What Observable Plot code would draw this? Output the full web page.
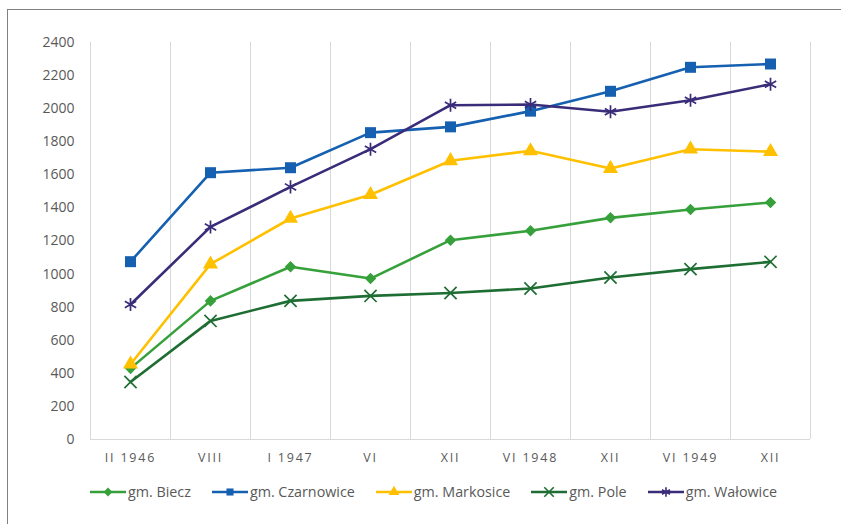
<!DOCTYPE html>
<html><head><meta charset="utf-8">
<script src="https://cdn.jsdelivr.net/npm/d3@7"></script>
<script src="https://cdn.jsdelivr.net/npm/@observablehq/plot@0.6"></script>
<style>
body{margin:0;background:#fff;font-family:"Open Sans",sans-serif;}
#wrap{position:relative;width:841px;height:524px;overflow:hidden;background:#fff}
#frame{position:absolute;left:7px;top:9px;width:900px;height:600px;border-top:1.5px solid #808080;border-left:1.5px solid #808080}
#chart{position:absolute;left:0;top:0}
#chart svg{overflow:visible}
#chart g[aria-label="x-axis tick label"] text{letter-spacing:1.8px}
#legend{position:absolute;left:90px;top:482px;display:flex;gap:21px;align-items:center;font-size:14.3px;color:#595959;white-space:nowrap}
#legend .item{display:flex;align-items:center;gap:2px}
</style></head>
<body>
<div id="wrap"><div id="frame"></div><div id="chart"></div><div id="legend"></div></div>
<script>
const categories = ["II 1946","VIII","I 1947","VI","XII","VI 1948","XII","VI 1949","XII"];
const seriesNames = ["gm. Biecz","gm. Czarnowice","gm. Markosice","gm. Pole","gm. Wałowice"];
const biecz      = [430, 838, 1044, 973, 1205, 1262, 1340, 1390, 1433];
const czarnowice = [1075, 1613, 1643, 1855, 1890, 1985, 2105, 2250, 2270];
const markosice  = [455, 1060, 1336, 1480, 1685, 1745, 1638, 1755, 1740];
const pole       = [348, 717, 838, 868, 886, 913, 979, 1030, 1074];
const walowice   = [816, 1285, 1527, 1755, 2021, 2025, 1981, 2051, 2148];
const yTicks = [0,200,400,600,800,1000,1200,1400,1600,1800,2000,2200,2400];

const seriesValues = [biecz, czarnowice, markosice, pole, walowice];
const colors = ["#36A03A","#1560B0","#FFC000","#1E6E33","#3A2C78"];
const symbols = ["diamond2","square","triangle","times","asterisk"];
const filled = [true, true, true, false, false];
const radii = [5.2, 6.2, 5.6, 5.6, 6.2];

const rows = seriesNames.flatMap((s, si) => seriesValues[si].map((v, i) => ({series: s, i, v})));
const idx = categories.map((_, i) => i);
const bounds = d3.range(-0.5, categories.length, 1);

const marks = [
  Plot.ruleX(bounds, {stroke: "#d9d9d9", strokeWidth: 1, y1: 0, y2: 2400}),
  Plot.ruleY([0], {stroke: "#d9d9d9", strokeWidth: 1}),
  Plot.axisY({ticks: yTicks, tickFormat: d => String(d), tickSize: 0, tickPadding: 16, fontSize: 14, fill: "#595959", label: null, fontFamily: "Open Sans"}),
  Plot.axisX({ticks: idx, tickFormat: i => categories[i], tickSize: 0, tickPadding: 14, fontSize: 12.5, fill: "#595959", label: null, fontFamily: "Open Sans"}),
  Plot.line(rows, {x: "i", y: "v", z: "series", stroke: "series", strokeWidth: 2.6})
];
seriesNames.forEach((s, si) => {
  const data = rows.filter(d => d.series === s);
  marks.push(Plot.dot(data, filled[si]
    ? {x: "i", y: "v", symbol: () => symbols[si], r: radii[si], fill: colors[si], stroke: "none"}
    : {x: "i", y: "v", symbol: () => symbols[si], r: radii[si], stroke: colors[si], strokeWidth: 1.7, fill: "none"}));
});

const chart = Plot.plot({
  width: 841, height: 475,
  marginLeft: 90, marginRight: 31, marginTop: 42, marginBottom: 36,
  x: {domain: [-0.5, categories.length - 0.5], axis: null},
  y: {domain: [0, 2400], axis: null},
  color: {domain: seriesNames, range: colors},
  symbol: {domain: symbols, range: symbols},
  style: {background: "transparent", fontFamily: "Open Sans"},
  marks
});
document.getElementById("chart").appendChild(chart);

// legend
const symMap = {diamond2: d3.symbolDiamond2, square: d3.symbolSquare, triangle: d3.symbolTriangle, times: d3.symbolTimes, asterisk: d3.symbolAsterisk};
const legend = d3.select("#legend");
seriesNames.forEach((s, si) => {
  const item = legend.append("div").attr("class", "item");
  const svg = item.append("svg").attr("width", 36).attr("height", 14);
  svg.append("line").attr("x1", 0).attr("x2", 36).attr("y1", 7).attr("y2", 7).attr("stroke", colors[si]).attr("stroke-width", 2.6);
  const path = svg.append("path").attr("transform", "translate(18,7)")
    .attr("d", d3.symbol(symMap[symbols[si]], filled[si] ? 50 : 60)());
  if (filled[si]) path.attr("fill", colors[si]);
  else path.attr("fill", "none").attr("stroke", colors[si]).attr("stroke-width", 1.6);
  item.append("span").text(s);
});
</script>
</body></html>
